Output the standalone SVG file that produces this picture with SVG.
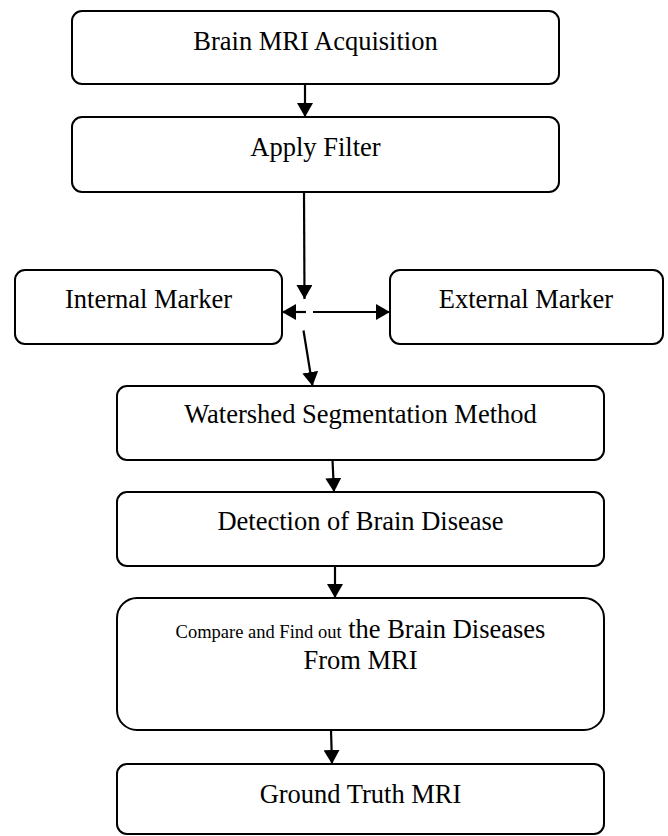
<svg xmlns="http://www.w3.org/2000/svg" width="668" height="836" viewBox="0 0 668 836">
<defs>
<style>
.box{fill:#fff;stroke:#000;stroke-width:2}
.t{font-size:26.5px;fill:#000;text-anchor:middle}
.c{fill:none;stroke:#000;stroke-width:2.2}
</style>
<marker id="ah" viewBox="0 0 14 16" refX="14" refY="8" markerWidth="14" markerHeight="16" markerUnits="userSpaceOnUse" orient="auto">
<path d="M0,0 L14,8 L0,16 Z" fill="#000"/>
</marker>
</defs>
<rect width="668" height="836" fill="#fff"/>
<g font-family="'Liberation Serif', 'Times New Roman', 'DejaVu Serif', serif">
<g id="n1"><rect class="box" x="72" y="11" width="487" height="73" rx="10"/><text class="t" x="315.5" y="50">Brain MRI Acquisition</text></g>
<g id="n2"><rect class="box" x="72" y="117" width="487" height="75" rx="10"/><text class="t" x="315.5" y="156">Apply Filter</text></g>
<g id="n3"><rect class="box" x="15" y="270" width="267" height="74" rx="10"/><text class="t" x="148.5" y="308">Internal Marker</text></g>
<g id="n4"><rect class="box" x="390" y="270" width="273" height="74" rx="10"/><text class="t" x="526" y="308">External Marker</text></g>
<g id="n5"><rect class="box" x="117" y="386" width="487" height="74" rx="10"/><text class="t" x="360.5" y="423">Watershed Segmentation Method</text></g>
<g id="n6"><rect class="box" x="117" y="492" width="487" height="74" rx="10"/><text class="t" x="360.5" y="530">Detection of Brain Disease</text></g>
<g id="n7"><rect class="box" x="117" y="598" width="487" height="132" rx="20"/><text class="t" x="360.5" y="638"><tspan font-size="18.5">Compare and Find out</tspan> the Brain Diseases</text><text class="t" x="360.5" y="669">From MRI</text></g>
<g id="n8"><rect class="box" x="117" y="764" width="487" height="70" rx="10"/><text class="t" x="360.5" y="803">Ground Truth MRI</text></g>
</g>
<g id="connectors">
<line class="c" x1="305" y1="84" x2="305" y2="117" marker-end="url(#ah)"/>
<line class="c" x1="304" y1="192" x2="304.5" y2="299" marker-end="url(#ah)"/>
<line class="c" x1="306" y1="312" x2="282" y2="312" marker-end="url(#ah)"/>
<line class="c" x1="313" y1="312" x2="390" y2="312" marker-end="url(#ah)"/>
<line class="c" x1="303.5" y1="330.5" x2="312.5" y2="386" marker-end="url(#ah)"/>
<line class="c" x1="332.5" y1="460" x2="334" y2="492" marker-end="url(#ah)"/>
<line class="c" x1="335" y1="566" x2="335" y2="598" marker-end="url(#ah)"/>
<line class="c" x1="331" y1="730" x2="332" y2="764" marker-end="url(#ah)"/>
</g>
</svg>
